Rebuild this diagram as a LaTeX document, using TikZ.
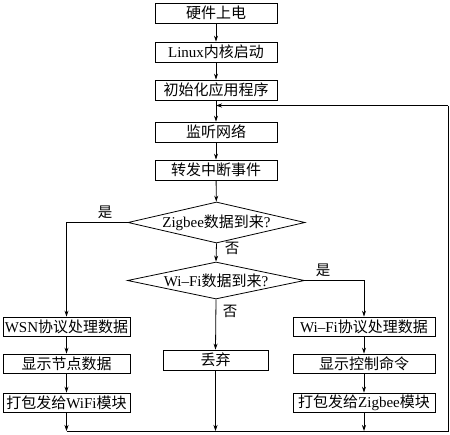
\documentclass[tikz,border=0pt]{standalone}
\usepackage{fontspec}
\setmainfont{Liberation Serif}
\newfontfamily\cjk{Noto Sans CJK SC}
\usetikzlibrary{shapes.geometric,arrows.meta}
\newcommand{\C}[1]{{\cjk #1}}
\tikzset{
  box/.style={draw, line width=0.8pt, minimum height=20pt, inner sep=0pt, font=\fontsize{15}{15}\selectfont},
  topbox/.style={box, minimum width=122pt},
  sidebox/.style={box, minimum height=19pt},
  dia/.style={draw, line width=0.8pt, shape=diamond, inner sep=0pt, font=\fontsize{15}{15}\selectfont},
  arr/.style={line width=0.8pt, -{Stealth[length=6pt,width=4pt]}},
  ln/.style={line width=0.8pt},
  lab/.style={font=\fontsize{14.5}{14.5}\cjk, inner sep=0pt}
}
\begin{document}
\begin{tikzpicture}[x=1pt,y=-1pt]
\useasboundingbox (0,0) rectangle (450,434);
\node[topbox] (b1) at (216,13) {\C{硬件上电}};
\node[topbox] (b2) at (216,52) {Linux\C{内核启动}};
\node[topbox] (b3) at (216,90) {\C{初始化应用程序}};
\node[topbox] (b4) at (216,132) {\C{监听网络}};
\node[topbox] (b5) at (216,170) {\C{转发中断事件}};
\node[dia, aspect=4.3, minimum width=177pt, minimum height=41pt] (d1) at (216.5,222.5) {Zigbee\C{数据到来}?};
\node[dia, aspect=4.8, minimum width=177pt, minimum height=37pt] (d2) at (216,280.5) {Wi--Fi\C{数据到来}?};
\node[sidebox, minimum width=127pt] (l1) at (66.5,326.5) {WSN\C{协议处理数据}};
\node[sidebox, minimum width=127pt] (l2) at (66.5,363.5) {\C{显示节点数据}};
\node[sidebox, minimum width=127pt] (l3) at (66.5,402.5) {\C{打包发给}WiFi\C{模块}};
\node[box, minimum width=105pt] (drop) at (215.5,360) {\C{丢弃}};
\node[sidebox, minimum width=142pt] (r1) at (364,326.5) {Wi--Fi\C{协议处理数据}};
\node[sidebox, minimum width=142pt] (r2) at (364,363.5) {\C{显示控制命令}};
\node[sidebox, minimum width=142pt] (r3) at (364,402.5) {\C{打包发给}Zigbee\C{模块}};
\coordinate (bl) at (66.5,431);
\coordinate (br) at (448,431);
\coordinate (tr) at (448,105.5);
\coordinate (fb) at (216,105.5);
\draw[arr] (b1) -- (b2);
\draw[arr] (b2) -- (b3);
\draw[arr] (b3) -- (b4);
\draw[arr] (b4) -- (b5);
\draw[arr] (b5) -- (d1);
\draw[arr] (d1.west) -| (l1.north);
\draw[arr] (d1.south) -- (d2.north);
\draw[arr] (d2.east) -| (r1.north);
\draw[arr] (d2.south) -- (drop.north);
\draw[arr] (l1) -- (l2);
\draw[arr] (l2) -- (l3);
\draw[arr] (r1) -- (r2);
\draw[arr] (r2) -- (r3);
\draw[arr] (l3.south) -- (bl);
\draw[arr] (drop.south) -- (drop.south |- bl);
\draw[arr] (r3.south) -- (r3.south |- bl);
\draw[ln] (bl) -- (br) -- (tr);
\draw[arr] (tr) -- (fb);
\node[lab] (y1) at (105,212) {是};
\node[lab] (n1) at (232,248) {否};
\node[lab] (y2) at (323,270) {是};
\node[lab] (n2) at (230,311) {否};
\end{tikzpicture}
\end{document}
